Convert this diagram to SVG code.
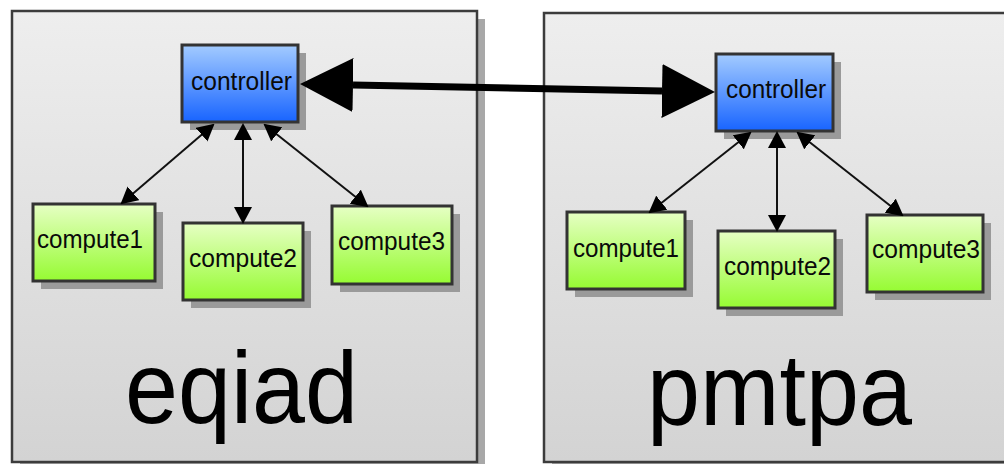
<svg xmlns="http://www.w3.org/2000/svg" width="1004" height="464" viewBox="0 0 1004 464">
<defs>
<linearGradient id="gCont" x1="0" y1="0" x2="0" y2="1"><stop offset="0" stop-color="#eeeeee"/><stop offset="1" stop-color="#d3d3d3"/></linearGradient>
<linearGradient id="gBlue" x1="0" y1="0" x2="0" y2="1"><stop offset="0" stop-color="#a3cbff"/><stop offset="1" stop-color="#1864ff"/></linearGradient>
<linearGradient id="gGreen" x1="0" y1="0" x2="0" y2="1"><stop offset="0" stop-color="#e6ffc4"/><stop offset="1" stop-color="#96fb32"/></linearGradient>
<marker id="sm" markerUnits="userSpaceOnUse" viewBox="0 0 17 18" markerWidth="17" markerHeight="18" refX="15" refY="9" orient="auto-start-reverse"><path d="M0,0 L17,9 L0,18 z" fill="#000"/></marker>
<marker id="bg" markerUnits="userSpaceOnUse" viewBox="0 0 53 54" markerWidth="53" markerHeight="54" refX="0" refY="27" orient="auto-start-reverse"><path d="M0,0 L53,27 L0,54 z" fill="#000"/></marker>
</defs>
<style>
.cont{fill:url(#gCont);stroke:#3c3c3c;stroke-width:2.5}
.cshadow{fill:#a8a8a8}
.shadow{fill:#9a9a9a}
.ctrl{fill:url(#gBlue);stroke:#333;stroke-width:3}
.comp{fill:url(#gGreen);stroke:#333;stroke-width:3}
.lbl{font-family:"Liberation Sans",Arial,sans-serif;font-size:26px;fill:#0a0a0a;text-anchor:middle}
.big{font-family:"Liberation Sans",Arial,sans-serif;font-size:102px;fill:#000;text-anchor:middle}
.link{stroke:#111;stroke-width:2;fill:none;marker-start:url(#sm);marker-end:url(#sm)}
.bigl{stroke:#000;stroke-width:7;fill:none;marker-start:url(#bg);marker-end:url(#bg)}
</style>
<rect width="1004" height="464" fill="#fff"/>
<g id="eqiad">
<rect class="cshadow" x="20" y="19" width="465" height="451"/>
<rect class="cont" x="12" y="11" width="465" height="451"/>
<text class="big" x="241.5" y="423" textLength="233" lengthAdjust="spacingAndGlyphs">eqiad</text>
</g>
<g id="pmtpa">
<rect class="cshadow" x="552" y="21" width="480" height="449"/>
<rect class="cont" x="544" y="13" width="480" height="449"/>
<text class="big" x="779.5" y="425" textLength="265" lengthAdjust="spacingAndGlyphs">pmtpa</text>
</g>
<g id="eqiad-controller">
<rect class="shadow" x="190" y="53" width="116" height="77"/>
<rect class="ctrl" x="182" y="45" width="116" height="77"/>
<text class="lbl" x="241.5" y="90" textLength="101" lengthAdjust="spacingAndGlyphs">controller</text>
</g>
<g id="eqiad-compute1">
<rect class="shadow" x="41" y="212" width="122" height="77"/>
<rect class="comp" x="33" y="204" width="122" height="77"/>
<text class="lbl" x="90" y="248" textLength="106" lengthAdjust="spacingAndGlyphs">compute1</text>
</g>
<g id="eqiad-compute2">
<rect class="shadow" x="191" y="231" width="120" height="77"/>
<rect class="comp" x="183" y="223" width="120" height="77"/>
<text class="lbl" x="243" y="267" textLength="108" lengthAdjust="spacingAndGlyphs">compute2</text>
</g>
<g id="eqiad-compute3">
<rect class="shadow" x="340" y="214" width="120" height="78"/>
<rect class="comp" x="332" y="206" width="120" height="78"/>
<text class="lbl" x="391.5" y="250" textLength="107" lengthAdjust="spacingAndGlyphs">compute3</text>
</g>
<g id="pmtpa-controller">
<rect class="shadow" x="724" y="62" width="117" height="77"/>
<rect class="ctrl" x="716" y="54" width="117" height="77"/>
<text class="lbl" x="776" y="98" textLength="100" lengthAdjust="spacingAndGlyphs">controller</text>
</g>
<g id="pmtpa-compute1">
<rect class="shadow" x="575" y="220" width="118" height="77"/>
<rect class="comp" x="567" y="212" width="118" height="77"/>
<text class="lbl" x="626" y="257" textLength="106" lengthAdjust="spacingAndGlyphs">compute1</text>
</g>
<g id="pmtpa-compute2">
<rect class="shadow" x="726" y="239" width="117" height="77"/>
<rect class="comp" x="718" y="231" width="117" height="77"/>
<text class="lbl" x="777.5" y="275" textLength="107" lengthAdjust="spacingAndGlyphs">compute2</text>
</g>
<g id="pmtpa-compute3">
<rect class="shadow" x="875" y="223" width="116" height="77"/>
<rect class="comp" x="867" y="215" width="116" height="77"/>
<text class="lbl" x="926" y="258" textLength="108" lengthAdjust="spacingAndGlyphs">compute3</text>
</g>
<g id="connectors">
<line class="bigl" x1="353" y1="85" x2="662" y2="91"/>
<line class="link" x1="213" y1="125" x2="122" y2="203"/>
<line class="link" x1="243" y1="125" x2="243" y2="222"/>
<line class="link" x1="265" y1="125" x2="367" y2="206"/>
<line class="link" x1="750" y1="133" x2="650" y2="212"/>
<line class="link" x1="777" y1="133" x2="777" y2="230"/>
<line class="link" x1="798" y1="133" x2="902" y2="215"/>
</g>
</svg>
